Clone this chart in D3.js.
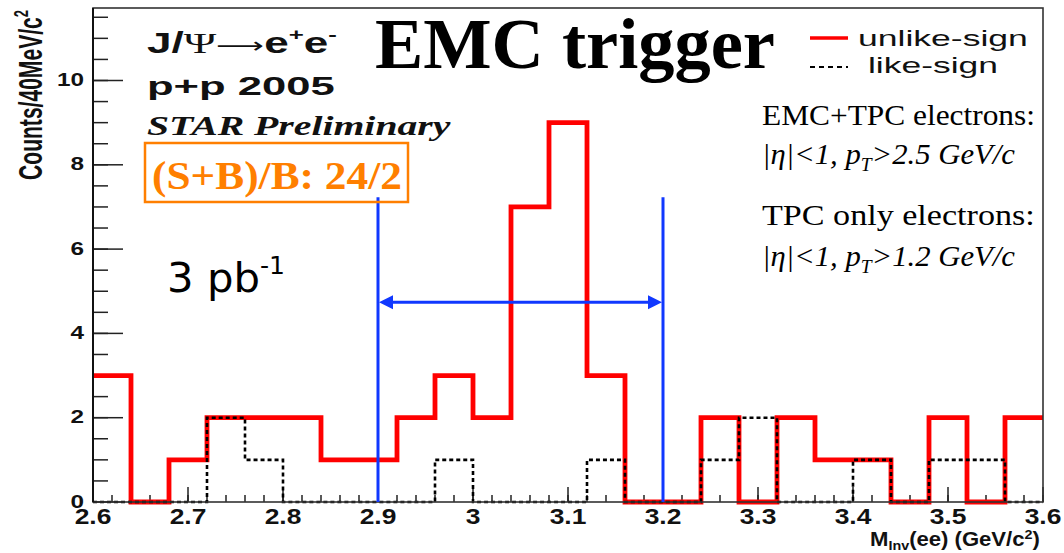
<!DOCTYPE html>
<html><head><meta charset="utf-8">
<script src="https://cdn.jsdelivr.net/npm/d3@7"></script>
<style>body{margin:0;background:#fff} svg{display:block}</style>
</head><body>
<svg id="c" width="1064" height="553"></svg>
<script>
// ---------------- data ----------------
const binEdges = [2.60,2.64,2.68,2.72,2.76,2.80,2.84,2.88,2.92,2.96,3.00,3.04,3.08,3.12,3.16,3.20,3.24,3.28,3.32,3.36,3.40,3.44,3.48,3.52,3.56,3.60];
const unlikeSign = [3,0,1,2,2,2,1,1,2,3,2,7,9,3,0,0,2,0,2,1,1,0,2,0,2];
const likeSign   = [0,0,0,2,1,0,0,0,0,1,0,0,0,1,0,0,1,2,0,0,1,0,1,1,0];
const xMajorTicks = [2.6,2.7,2.8,2.9,3.0,3.1,3.2,3.3,3.4,3.5,3.6];
const xTickLabels = ["2.6","2.7","2.8","2.9","3","3.1","3.2","3.3","3.4","3.5","3.6"];
const yMajorTicks = [0,2,4,6,8,10];
const yTickLabels = ["0","2","4","6","8","10"];
const massWindow = [2.9, 3.2];     // blue vertical lines
const windowLineTop = 7.23;        // height of the blue lines (counts)
const arrowLevel = 4.74;           // height of the double arrow (counts)
const xDomain = [2.6, 3.6];
const yDomain = [0, 11.72];

// ---------------- layout ----------------
const svg = d3.select("#c");
const L = 93, R = 1043, T = 8, B = 502;
const x = d3.scaleLinear().domain(xDomain).range([L, R]);
const y = d3.scaleLinear().domain(yDomain).range([B, T]);

const sans = "'Liberation Sans', Arial, sans-serif";
const serif = "'Liberation Serif', 'Times New Roman', serif";

function fit(sel, px, py, targetW) {
  const w = sel.node().getBBox().width;
  sel.attr("transform", `translate(${px},${py}) scale(${targetW / w},1)`);
}

// ---------------- ticks ----------------
const g = svg.append("g");
const xMinor = d3.range(0, 51).map(i => 2.6 + i * 0.02);
g.selectAll(".xmin").data(xMinor).join("line")
  .attr("x1", d => x(d)).attr("x2", d => x(d))
  .attr("y1", B).attr("y2", B - 7).attr("stroke", "#222").attr("stroke-width", 1.5);
g.selectAll(".xmaj").data(xMajorTicks).join("line")
  .attr("x1", d => x(d)).attr("x2", d => x(d))
  .attr("y1", B).attr("y2", B - 15).attr("stroke", "#222").attr("stroke-width", 1.5);
const yMinor = d3.range(0, 24).map(i => i * 0.5);
g.selectAll(".ymin").data(yMinor).join("line")
  .attr("x1", L).attr("x2", L + 15)
  .attr("y1", d => y(d)).attr("y2", d => y(d)).attr("stroke", "#222").attr("stroke-width", 1.5);
g.selectAll(".ymaj").data(yMajorTicks).join("line")
  .attr("x1", L).attr("x2", L + 30)
  .attr("y1", d => y(d)).attr("y2", d => y(d)).attr("stroke", "#222").attr("stroke-width", 1.5);

// tick labels
xMajorTicks.forEach((v, i) => {
  const t = svg.append("text").text(xTickLabels[i])
    .attr("font-family", sans).attr("font-weight", "bold").attr("font-size", 22)
    .attr("text-anchor", "middle").attr("fill", "#111");
  t.attr("transform", `translate(${x(v)},524) scale(1.2,1)`);
});
yMajorTicks.forEach((v, i) => {
  const t = svg.append("text").text(yTickLabels[i])
    .attr("font-family", sans).attr("font-weight", "bold").attr("font-size", 18)
    .attr("text-anchor", "end").attr("fill", "#111");
  t.attr("transform", `translate(84,${y(v) + 5.5}) scale(1.35,1)`);
});

// axis titles
{
  const t = svg.append("text").attr("font-family", sans).attr("font-weight", "bold")
    .attr("font-size", 21).attr("text-anchor", "end").attr("fill", "#111");
  t.append("tspan").text("Counts/40MeV/c");
  t.append("tspan").text("2").attr("font-size", 13).attr("dy", -9);
  const w = t.node().getBBox().width;
  t.attr("transform", `translate(42,10) scale(1.55,${170 / w}) rotate(-90)`);
}
{
  const t = svg.append("text").attr("font-family", sans).attr("font-weight", "bold")
    .attr("font-size", 20).attr("fill", "#111");
  t.append("tspan").text("M");
  t.append("tspan").text("Inv").attr("font-size", 13).attr("dy", 4);
  t.append("tspan").text("(ee) (GeV/c").attr("dy", -4);
  t.append("tspan").text("2").attr("font-size", 13).attr("dy", -7);
  t.append("tspan").text(")").attr("dy", 7);
  fit(t, 870, 546, 170);
}

// ---------------- histograms ----------------
function stepPoints(vals) {
  const pts = [];
  vals.forEach((v, i) => { pts.push([binEdges[i], v]); pts.push([binEdges[i + 1], v]); });
  return pts;
}
const line = d3.line().x(d => x(d[0])).y(d => y(d[1]));
svg.append("path").attr("d", line(stepPoints(unlikeSign)))
  .attr("fill", "none").attr("stroke", "#ff0000").attr("stroke-width", 4.8)
  .attr("stroke-linejoin", "miter");
svg.append("path").attr("d", line(stepPoints(likeSign)))
  .attr("fill", "none").attr("stroke", "#000").attr("stroke-width", 2.6)
  .attr("stroke-dasharray", "4,3");

// frame
svg.append("rect").attr("x", L).attr("y", T).attr("width", R - L).attr("height", B - T)
  .attr("fill", "none").attr("stroke", "#333").attr("stroke-width", 1.6);
svg.append("line").attr("x1", L).attr("x2", L).attr("y1", T).attr("y2", B)
  .attr("stroke", "#111").attr("stroke-width", 2);

// ---------------- mass window ----------------
const blue = "#1038ff";
massWindow.forEach(m => {
  svg.append("line").attr("x1", x(m)).attr("x2", x(m))
    .attr("y1", y(windowLineTop)).attr("y2", y(0))
    .attr("stroke", blue).attr("stroke-width", 3);
});
{
  const ay = y(arrowLevel), x1 = x(massWindow[0]), x2 = x(massWindow[1]);
  svg.append("line").attr("x1", x1 + 10).attr("x2", x2 - 10).attr("y1", ay).attr("y2", ay)
    .attr("stroke", blue).attr("stroke-width", 3);
  svg.append("path").attr("d", `M${x1 + 1},${ay} L${x1 + 15},${ay - 7} L${x1 + 15},${ay + 7} Z`).attr("fill", blue);
  svg.append("path").attr("d", `M${x2 - 1},${ay} L${x2 - 15},${ay - 7} L${x2 - 15},${ay + 7} Z`).attr("fill", blue);
}

// ---------------- annotations ----------------
{
  const t = svg.append("text").attr("font-family", sans).attr("font-weight", "bold")
    .attr("font-size", 29).attr("fill", "#111");
  t.append("tspan").text("J/");
  t.append("tspan").text("Ψ").attr("font-family", serif).attr("font-weight", "normal");
  t.append("tspan").text("⟶").attr("font-family", "'DejaVu Sans', sans-serif").attr("font-weight", "normal").attr("font-size", 22);
  t.append("tspan").text("e");
  t.append("tspan").text("+").attr("font-size", 17).attr("dy", -13);
  t.append("tspan").text("e").attr("dy", 13);
  t.append("tspan").text("-").attr("font-size", 17).attr("dy", -13);
  fit(t, 147, 53, 190);
}
{
  const t = svg.append("text").text("p+p 2005").attr("font-family", sans)
    .attr("font-weight", "bold").attr("font-size", 25).attr("fill", "#111");
  fit(t, 147, 95, 188);
}
{
  const t = svg.append("text").text("STAR Preliminary").attr("font-family", serif)
    .attr("font-weight", "bold").attr("font-style", "italic").attr("font-size", 27).attr("fill", "#111");
  fit(t, 147, 135, 305);
}
// orange box
const orange = "#ff7f00";
svg.append("rect").attr("x", 145).attr("y", 143).attr("width", 263).attr("height", 59)
  .attr("fill", "none").attr("stroke", orange).attr("stroke-width", 2.5);
{
  const t = svg.append("text").text("(S+B)/B: 24/2").attr("font-family", serif)
    .attr("font-weight", "bold").attr("font-size", 40).attr("fill", orange);
  fit(t, 152, 189, 250);
}
{
  const t = svg.append("text").text("EMC trigger").attr("font-family", serif)
    .attr("font-weight", "bold").attr("font-size", 72).attr("fill", "#000");
  fit(t, 375, 68, 400);
}
{
  const t = svg.append("text").attr("font-family", "'DejaVu Sans', Verdana, sans-serif")
    .attr("font-size", 40).attr("fill", "#000");
  t.append("tspan").text("3 pb");
  t.append("tspan").text("-1").attr("font-size", 24).attr("dy", -18);
  fit(t, 167, 292, 118);
}
// legend
svg.append("line").attr("x1", 810).attr("x2", 848).attr("y1", 38).attr("y2", 38)
  .attr("stroke", "#ff0000").attr("stroke-width", 3.5);
svg.append("line").attr("x1", 810).attr("x2", 848).attr("y1", 67).attr("y2", 67)
  .attr("stroke", "#000").attr("stroke-width", 2).attr("stroke-dasharray", "5,4");
{
  const t = svg.append("text").text("unlike-sign").attr("font-family", sans)
    .attr("font-size", 22).attr("fill", "#111");
  fit(t, 858, 46, 170);
  const t2 = svg.append("text").text("like-sign").attr("font-family", sans)
    .attr("font-size", 22).attr("fill", "#111");
  fit(t2, 868, 73, 130);
}
// cuts text
function cutLine(py, w, pT) {
  const t = svg.append("text").attr("font-family", serif).attr("font-style", "italic")
    .attr("font-size", 30).attr("fill", "#000");
  t.append("tspan").text("|η|<1, p");
  t.append("tspan").text("T").attr("font-size", 19).attr("dy", 7);
  t.append("tspan").text(">" + pT + " GeV/c").attr("dy", -7);
  fit(t, 762, py, w);
}
{
  const t = svg.append("text").text("EMC+TPC electrons:").attr("font-family", serif)
    .attr("font-size", 30).attr("fill", "#000");
  fit(t, 762, 125, 273);
  cutLine(164, 253, "2.5");
  const t3 = svg.append("text").text("TPC only electrons:").attr("font-family", serif)
    .attr("font-size", 30).attr("fill", "#000");
  fit(t3, 762, 225, 273);
  cutLine(266, 253, "1.2");
}
</script>
</body></html>
